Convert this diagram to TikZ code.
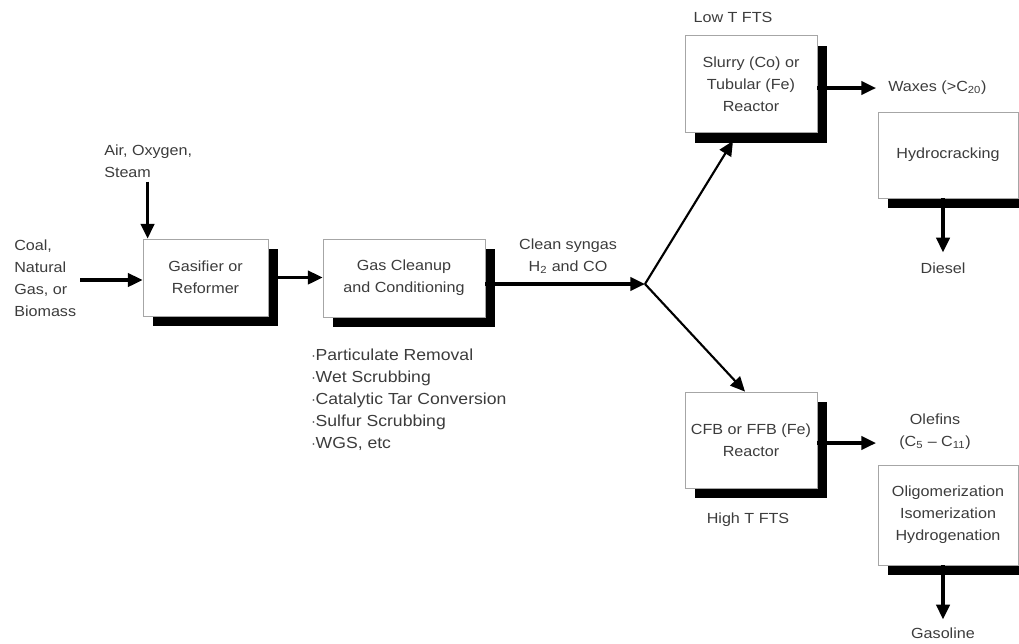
\documentclass[tikz,border=0pt]{standalone}
\usepackage{fontspec}
\setmainfont[FakeStretch=1.1]{Liberation Sans}
\usetikzlibrary{arrows.meta,shadows}
\definecolor{txtgray}{RGB}{60,60,60}

\begin{document}
\begin{tikzpicture}[
    x=0.75pt, y=-0.75pt,
    txt/.style={font=\fontsize{11}{16.5}\selectfont,text=txtgray,inner sep=0pt},
    box/.style={draw=gray!70,line width=0.6pt,fill=white,align=center,
                font=\fontsize{11}{16.5}\selectfont,text=txtgray,
                drop shadow={shadow xshift=7.5pt,shadow yshift=-7.5pt,
                             fill=black,opacity=1}},
    flow/.style={line width=2.3pt,-{Triangle[length=11pt,width=10pt]}},
    branch/.style={line width=1.6pt,-{Triangle[length=11pt,width=10pt]}},
  ]

    \useasboundingbox (0,0) rectangle (1019,643);

    % Boxes
    \node[box,minimum width=93.75pt,minimum height=57.75pt] (gas)   at (205.5,277.5) {Gasifier or\\Reformer};
    \node[box,minimum width=121.5pt,minimum height=58.5pt]  (clean) at (404,278)     {Gas Cleanup\\and Conditioning};
    \node[box,minimum width=99pt,minimum height=72.75pt]    (lowt)  at (751,84)      {Slurry (Co) or\\Tubular (Fe)\\Reactor};
    \node[box,minimum width=105pt,minimum height=64.5pt]    (hydro) at (948,155)     {Hydrocracking};
    \node[box,minimum width=99pt,minimum height=72pt]       (hight) at (751,440)     {CFB or FFB (Fe)\\Reactor};
    \node[box,minimum width=105pt,minimum height=75pt]      (oligo) at (948,515)     {Oligomerization\\Isomerization\\Hydrogenation};

    % Labels
    \node[txt,anchor=west,align=left] (coal)  at (14,278)  {Coal,\\Natural\\Gas, or\\Biomass};
    \node[txt,anchor=west,align=left] (air)   at (104,161) {Air, Oxygen,\\Steam};
    \node[txt,align=center]           (syn)   at (568,256) {Clean syngas\\H\textsubscript{2} and CO};
    \node[txt]                        (lowl)  at (733,17)  {Low T FTS};
    \node[txt,anchor=west]            (waxes) at (888,88)  {Waxes (>C\textsubscript{20})};
    \node[txt]                        (dies)  at (943,268) {Diesel};
    \node[txt]                        (highl) at (748,520) {High T FTS};
    \node[txt,align=center]           (olef)  at (935,432) {Olefins\\(C\textsubscript{5} -- C\textsubscript{11})};
    \node[txt]                        (gasol) at (943,633) {Gasoline};
    \node[txt,anchor=west,align=left,font=\fontsize{12}{16.5}\selectfont] (steps) at (311,400)
      {$\cdot$Particulate Removal\\$\cdot$Wet Scrubbing\\$\cdot$Catalytic Tar Conversion\\$\cdot$Sulfur Scrubbing\\$\cdot$WGS, etc};

    % Connectors
    \coordinate (airin) at ([xshift=3.75pt]gas.north west);
    \coordinate (split) at (645,284);
    \coordinate (waxin) at (876,88);
    \coordinate (olin)  at (876,443);

    \draw[flow] ([xshift=3pt]coal.east |- 0,280) -- (gas.west |- 0,280);
    \draw[flow] ([yshift=-3pt]air.south -| airin) -- (airin);
    \draw[flow] ([xshift=6pt]gas.east) -- (clean.west |- gas.east);
    \draw[flow] (clean.east |- split) -- (split);
    \draw[branch] (split) -- ([xshift=-13.5pt,yshift=-6pt]lowt.south);
    \draw[branch] (split) -- ([xshift=-4.5pt]hight.north);
    \draw[flow] (lowt.east |- waxin) -- (waxin);
    \draw[flow] (hight.east |- olin) -- (olin);
    \draw[flow] (hydro.south -| dies.north) -- ([yshift=7.5pt]dies.north);
    \draw[flow] (oligo.south -| gasol.north) -- ([yshift=6pt]gasol.north);

  \end{tikzpicture}
\end{document}
